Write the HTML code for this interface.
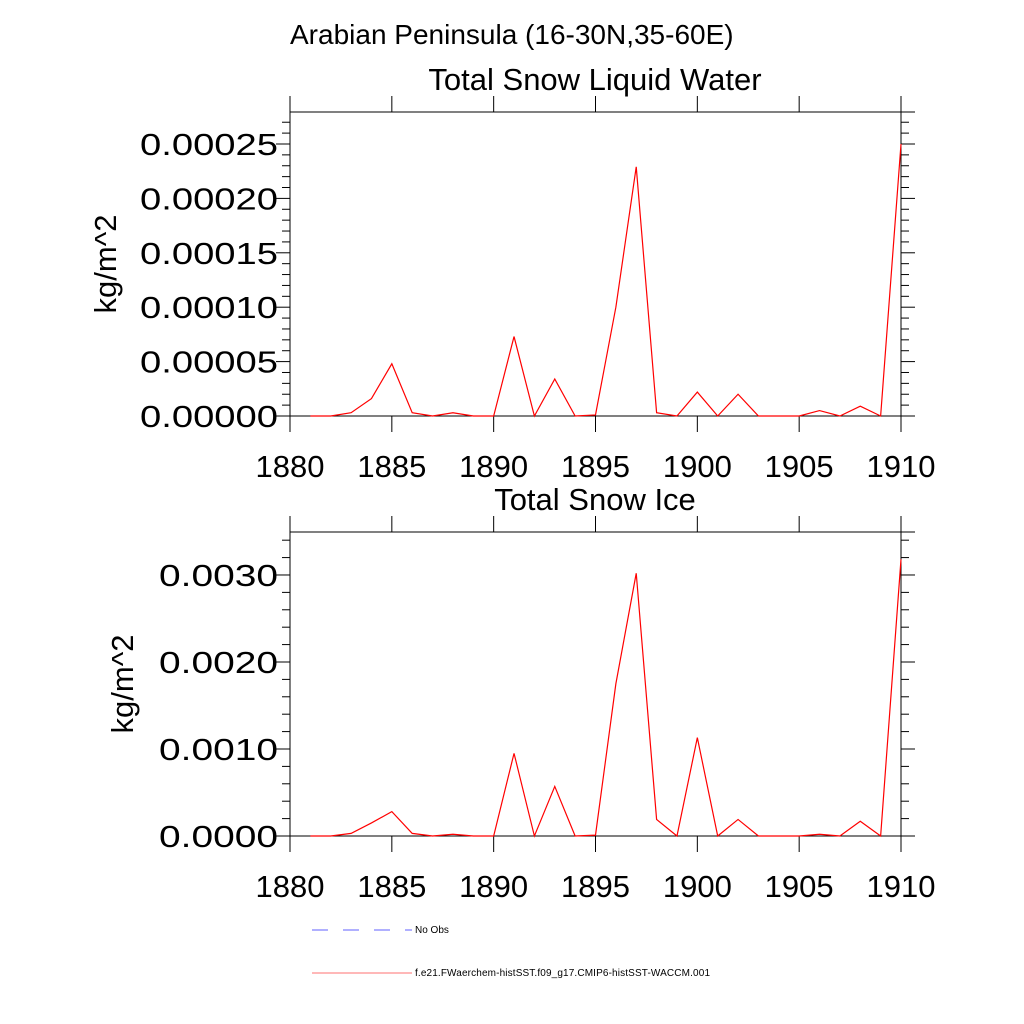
<!DOCTYPE html>
<html><head><meta charset="utf-8"><style>
body{margin:0;background:#fff}
svg{display:block;font-family:"Liberation Sans",sans-serif}
</style></head><body>
<svg id="c" width="1024" height="1024" viewBox="0 0 1024 1024">
<text x="290" y="44" font-size="28">Arabian Peninsula (16-30N,35-60E)</text>
<g id="p1"></g>
<g id="p2"></g>
<g>
<line x1="312" y1="930" x2="412" y2="930" stroke="#6060ff" stroke-width="1" stroke-dasharray="16,15"/>
<text x="415" y="933" font-size="10">No Obs</text>
<line x1="312" y1="973" x2="412" y2="973" stroke="#ff7070" stroke-width="1"/>
<text x="415" y="976" font-size="10" textLength="295">f.e21.FWaerchem-histSST.f09_g17.CMIP6-histSST-WACCM.001</text>
</g>
</svg>
<script>
const years=[1881,1882,1883,1884,1885,1886,1887,1888,1889,1890,1891,1892,1893,1894,1895,1896,1897,1898,1899,1900,1901,1902,1903,1904,1905,1906,1907,1908,1909,1910];
const liquidWater=[0,0,0.000003,0.000016,0.000048,0.000003,0,0.000003,0,0,0.000073,0,0.000034,0,0.000001,0.0001,0.000229,0.000003,0,0.000022,0,0.00002,0,0,0,0.000005,0,0.000009,0,0.00025];
const snowIce=[0,0,0.00003,0.00015,0.00028,0.00003,0,0.00002,0,0,0.00095,0,0.00057,0,0.00001,0.00175,0.00302,0.00019,0,0.00113,0,0.00019,0,0,0,0.00002,0,0.00017,0,0.00318];
const xTicks=[1880,1885,1890,1895,1900,1905,1910];
const yTicks1=["0.00000","0.00005","0.00010","0.00015","0.00020","0.00025"];
const yTicks2=["0.0000","0.0010","0.0020","0.0030"];
const NS="http://www.w3.org/2000/svg";
function mk(p,t,a){const e=document.createElementNS(NS,t);for(const k in a)e.setAttribute(k,a[k]);p.appendChild(e);return e;}
function panel(g,o){
 const L=290,R=901,T=o.top,B=o.bot;
 const xs=v=>L+(v-1880)/30*(R-L);
 const ys=v=>B-(v-0)/o.ymax*(B-T);
 let r=mk(g,'rect',{x:L,y:T,width:R-L,height:B-T,fill:'none',stroke:'#000','stroke-width':1});
 
 
 mk(g,'line',{x1:L,y1:B,x2:R+14,y2:B,stroke:'#000'});
 mk(g,'line',{x1:L,y1:T,x2:R+14,y2:T,stroke:'#000'});
 xTicks.forEach(v=>{const x=xs(v);
  mk(g,'line',{x1:x,y1:B,x2:x,y2:B+16,stroke:'#000'});
  mk(g,'line',{x1:x,y1:T,x2:x,y2:T-16,stroke:'#000'});
  const t=mk(g,'text',{x:x,y:B+61,'font-size':31,'text-anchor':'middle'});t.textContent=v;
  
  
 });
 for(let v=0;v<=o.ymax+1e-12;v+=o.minor){const y=ys(v);
  const major=Math.abs(v/o.major-Math.round(v/o.major))<1e-6;const l=major?14:8;
  mk(g,'line',{x1:L,y1:y,x2:L-l,y2:y,stroke:'#000'});
  mk(g,'line',{x1:R,y1:y,x2:R+l,y2:y,stroke:'#000'});}
 o.labels.forEach((s,i)=>{const t=mk(g,'text',{x:278-o.lw,y:ys(i*o.major)+11,'font-size':31,textLength:o.lw,lengthAdjust:'spacingAndGlyphs'});t.textContent=s;
  
  });
 const tt=mk(g,'text',{x:595,y:T-22,'font-size':31,'text-anchor':'middle'});tt.textContent=o.title;
 
 
 const yt=mk(g,'text',{x:0,y:0,'font-size':31,'text-anchor':'middle',transform:`translate(${o.ytx},${(T+B)/2}) rotate(-90)`});yt.textContent='kg/m^2';
 
 
 const pl=mk(g,'polyline',{points:years.map((y,i)=>xs(y)+','+ys(o.data[i])).join(' '),fill:'none',stroke:'#ff0000','stroke-width':1.2});
 
 
}
panel(document.getElementById('p1'),{top:112,bot:416,ymax:0.0002794,major:0.00005,minor:0.00001,labels:yTicks1,data:liquidWater,title:'Total Snow Liquid Water',ytx:116,lw:138});
panel(document.getElementById('p2'),{top:532,bot:836,ymax:0.003494,major:0.001,minor:0.0002,labels:yTicks2,data:snowIce,title:'Total Snow Ice',ytx:133,lw:119});
</script>
</body></html>
